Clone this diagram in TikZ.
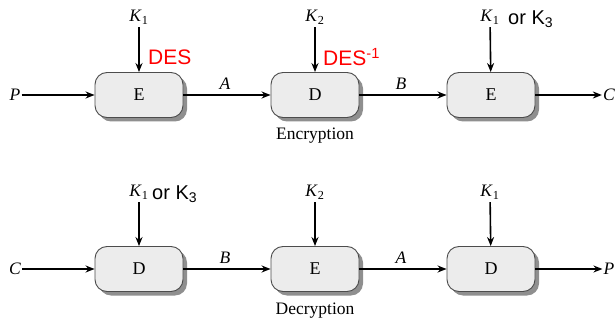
\documentclass[tikz,border=0pt]{standalone}
\usepackage{fontspec}
\setmainfont{Liberation Serif}
\newfontfamily\arialf{Liberation Sans}
\usetikzlibrary{arrows.meta,shadows}
\begin{document}
\begin{tikzpicture}[x=1pt,y=-1pt,
  blk/.style={draw=black!70, line width=0.9pt, fill=gray!15, rounded corners=12pt,
    minimum width=88pt, minimum height=45pt, font=\fontsize{18}{20}\selectfont,
    drop shadow={shadow xshift=4pt, shadow yshift=-4pt, fill=black!55, opacity=0.8}},
  lbl/.style={font=\fontsize{17.5}{20}\selectfont, inner sep=1pt},
  red/.style={font=\arialf\fontsize{21}{23}\selectfont, text=red, inner sep=0pt},
  blk2/.style={font=\arialf\fontsize{20}{22}\selectfont, inner sep=0pt},
  arr/.style={line width=1.6pt, -{Stealth[length=9pt,width=7pt]}}]
\useasboundingbox (0,0) rectangle (616,326);

% top row
\node[blk] (e1) at (139,95) {E};
\node[blk] (d1) at (315,95) {D};
\node[blk] (e2) at (491,95) {E};
\node[lbl] (p1) at (15,95) {\textit{P}};
\node[lbl] (c1) at (609,95) {\textit{C}};
\node[lbl, inner ysep=3pt] (k1) at (139,17) {\textit{K}\textsubscript{1}};
\node[lbl, inner ysep=3pt] (k2) at (315,17) {\textit{K}\textsubscript{2}};
\node[lbl, inner ysep=3pt] (k3) at (490,17) {\textit{K}\textsubscript{1}};
\node[blk2, anchor=west] (or1) at (508,19) {or K\textsubscript{3}};
\node[red, anchor=west] (des) at (148,57) {DES};
\node[red, anchor=west] (desi) at (323,57) {DES\textsuperscript{-1}};
\node[lbl] (a1) at (225,84) {\textit{A}};
\node[lbl] (b1) at (401,84) {\textit{B}};
\node[lbl] (enc) at (315,136) {Encryption};
\draw[arr] (p1) -- (e1);
\draw[arr] (e1) -- (d1);
\draw[arr] (d1) -- (e2);
\draw[arr] (e2) -- (c1);
\draw[arr] (k1) -- (e1);
\draw[arr] (k2) -- (d1);
\draw[arr] (k3) -- (e2);

% bottom row
\node[blk] (d2) at (139,269) {D};
\node[blk] (e3) at (315,269) {E};
\node[blk] (d3) at (491,269) {D};
\node[lbl] (c2) at (15,269) {\textit{C}};
\node[lbl] (p2) at (609,269) {\textit{P}};
\node[lbl, inner ysep=3pt] (k4) at (139,192) {\textit{K}\textsubscript{1}};
\node[blk2, anchor=west] (or2) at (152,194) {or K\textsubscript{3}};
\node[lbl, inner ysep=3pt] (k5) at (315,192) {\textit{K}\textsubscript{2}};
\node[lbl, inner ysep=3pt] (k6) at (490,192) {\textit{K}\textsubscript{1}};
\node[lbl] (b2) at (225,258) {\textit{B}};
\node[lbl] (a2) at (401,258) {\textit{A}};
\node[lbl] (dec) at (315,311) {Decryption};
\draw[arr] (c2) -- (d2);
\draw[arr] (d2) -- (e3);
\draw[arr] (e3) -- (d3);
\draw[arr] (d3) -- (p2);
\draw[arr] (k4) -- (d2);
\draw[arr] (k5) -- (e3);
\draw[arr] (k6) -- (d3);
\end{tikzpicture}
\end{document}
